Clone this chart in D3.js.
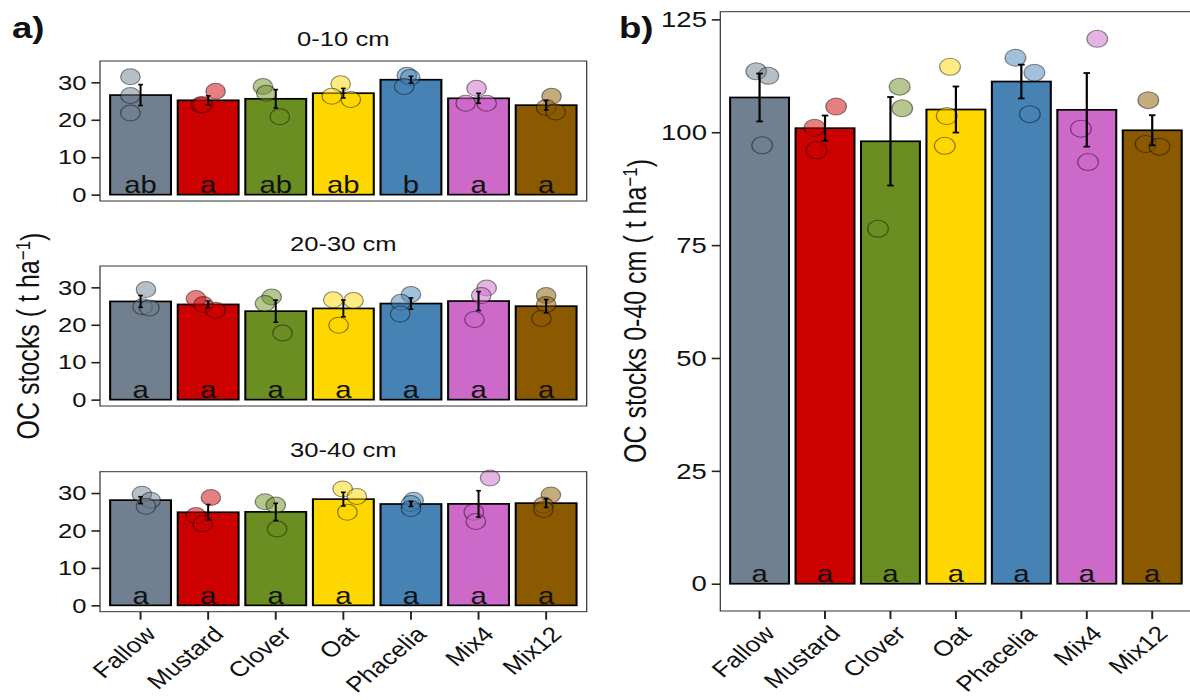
<!DOCTYPE html>
<html>
<head>
<meta charset="utf-8">
<script src="https://cdn.jsdelivr.net/npm/d3@7"></script>
<style>
  body { margin: 0; background: #fff; }
  svg text { font-family: "Liberation Sans", Arial, sans-serif; fill: #111; }
</style>
</head>
<body>
<svg id="chart"></svg>
<script>
// DATA

var categories = ["Fallow", "Mustard", "Clover", "Oat", "Phacelia", "Mix4", "Mix12"];
var colours = ["#708090", "#CD0000", "#6B8E23", "#FFD700", "#4682B4", "#CD69C9", "#8B5A00"];
var depths = ["0-10 cm", "20-30 cm", "30-40 cm"];

// three field replicates per treatment, OC stocks in t/ha
var stocks0to10 = [[31.5, 26.5, 21.8], [27.6, 24.0, 24.0], [28.9, 27.1, 20.8], [29.6, 26.3, 25.4],
                   [31.9, 31.3, 28.9], [28.4, 24.4, 24.4], [26.3, 23.3, 22.1]];
var stocks20to30 = [[29.4, 24.8, 24.5], [27.0, 25.4, 23.9], [27.4, 25.7, 17.8], [26.7, 26.5, 19.9],
                    [28.1, 26.0, 22.9], [29.8, 27.8, 21.4], [27.8, 25.4, 21.7]];
var stocks30to40 = [[29.7, 28.1, 26.5], [28.8, 24.0, 21.8], [27.7, 26.8, 20.4], [31.1, 29.1, 24.9],
                    [28.1, 27.2, 25.9], [34.0, 24.9, 22.4], [29.5, 26.8, 25.6]];
var stocksTotal = [[113.5, 112.5, 97.1], [105.7, 101.0, 96.0], [110.1, 105.3, 78.6], [114.5, 103.6, 97.0],
                   [116.5, 113.2, 104.0], [120.7, 100.8, 93.4], [107.1, 97.4, 96.8]];

// horizontal jitter of each replicate point (fraction of a category step)
var jit0to10 = [[-0.15, -0.15, -0.15], [0.11, -0.11, -0.08], [-0.19, -0.14, 0.06], [-0.04, -0.17, 0.11],
                [-0.06, -0.01, -0.1], [-0.03, -0.19, 0.12], [0.08, 0, 0.14]];
var jit20to30 = [[0.08, 0.03, 0.13], [-0.18, -0.07, 0.11], [-0.06, -0.16, 0.1], [-0.15, 0.15, -0.07],
                 [0, -0.15, -0.16], [0.12, 0.04, -0.06], [0, 0, -0.07]];
var jit30to40 = [[0.02, 0.15, 0.08], [0.04, -0.18, -0.08], [-0.16, 0, 0.02], [-0.01, 0.2, 0.06],
                 [0.04, 0, 0], [0.17, -0.07, -0.04], [0.07, -0.04, -0.04]];
var jitTotal = [[-0.05, 0.135, 0.04], [0.17, -0.16, -0.13], [0.14, 0.18, -0.19], [-0.09, -0.14, -0.17],
                [-0.09, 0.2, 0.13], [0.16, -0.09, 0.02], [-0.06, -0.1, 0.11]];

var letters0to10 = ["ab", "a", "ab", "ab", "b", "a", "a"];
var letters20to30 = ["a", "a", "a", "a", "a", "a", "a"];
var letters30to40 = ["a", "a", "a", "a", "a", "a", "a"];
var lettersTotal = ["a", "a", "a", "a", "a", "a", "a"];

var ticksA = [0, 10, 20, 30];
var ticksB = [0, 25, 50, 75, 100, 125];

// SETUP
// the reference is stretched sideways, so draw in narrower units and stretch the svg
var SX = 1.22,
    W = 1190 / SX,
    H = 700;

function lx(px) { return px / SX; }

var svg = d3.select("#chart")
    .attr("width", 1190)
    .attr("height", H)
    .attr("viewBox", "0 0 " + W + " " + H)
    .attr("preserveAspectRatio", "none");

function summary(vals) {
    var m = d3.mean(vals);
    var se = d3.deviation(vals) / Math.sqrt(vals.length);
    return { mean: m, lo: m - se, hi: m + se };
}

// DRAWING

function drawPanel(o) {
    var g = svg.append("g");

    var x = d3.scaleBand()
        .domain(categories)
        .range([o.left, o.right])
        .paddingInner(0.1)
        .paddingOuter(0.15);
    var step = x.step(), bw = x.bandwidth();

    var y = d3.scaleLinear().domain(o.yDomain).range([o.bottom, o.top]);

    var rows = categories.map(function (c, i) {
        var s = summary(o.values[i]);
        return { cat: c, col: colours[i], mean: s.mean, lo: s.lo, hi: s.hi,
                 vals: o.values[i], jit: o.jitter[i], letter: o.letters[i] };
    });

    // bars
    g.selectAll(".bar")
        .data(rows)
        .enter().append("rect")
        .attr("class", "bar")
        .attr("x", function (d) { return x(d.cat); })
        .attr("y", function (d) { return y(d.mean); })
        .attr("width", bw)
        .attr("height", function (d) { return y(0) - y(d.mean); })
        .attr("fill", function (d) { return d.col; })
        .attr("stroke", "#000")
        .attr("stroke-width", 1.7);

    // replicate points
    var pts = [];
    rows.forEach(function (d) {
        d.vals.forEach(function (v, k) { pts.push({ cat: d.cat, col: d.col, v: v, j: d.jit[k] }); });
    });
    g.selectAll(".pt")
        .data(pts)
        .enter().append("circle")
        .attr("class", "pt")
        .attr("cx", function (d) { return x(d.cat) + bw / 2 + d.j * step; })
        .attr("cy", function (d) { return y(d.v); })
        .attr("r", o.r)
        .attr("fill", function (d) { return d.col; })
        .attr("fill-opacity", 0.5)
        .attr("stroke", "#000")
        .attr("stroke-opacity", 0.45)
        .attr("stroke-width", 1);

    // error bars (mean +- se)
    var cap = o.cap * step / 2;
    var eb = g.selectAll(".eb")
        .data(rows)
        .enter().append("g")
        .attr("class", "eb")
        .attr("stroke", "#000")
        .attr("stroke-width", o.ebWidth);
    eb.append("line")
        .attr("x1", function (d) { return x(d.cat) + bw / 2; })
        .attr("x2", function (d) { return x(d.cat) + bw / 2; })
        .attr("y1", function (d) { return y(d.lo); })
        .attr("y2", function (d) { return y(d.hi); });
    eb.append("line")
        .attr("x1", function (d) { return x(d.cat) + bw / 2 - cap; })
        .attr("x2", function (d) { return x(d.cat) + bw / 2 + cap; })
        .attr("y1", function (d) { return y(d.lo); })
        .attr("y2", function (d) { return y(d.lo); });
    eb.append("line")
        .attr("x1", function (d) { return x(d.cat) + bw / 2 - cap; })
        .attr("x2", function (d) { return x(d.cat) + bw / 2 + cap; })
        .attr("y1", function (d) { return y(d.hi); })
        .attr("y2", function (d) { return y(d.hi); });

    // significance letters
    g.selectAll(".lett")
        .data(rows)
        .enter().append("text")
        .attr("class", "lett")
        .attr("x", function (d) { return x(d.cat) + bw / 2; })
        .attr("y", y(0) - 1.5)
        .attr("text-anchor", "middle")
        .style("font-size", o.letterSize + "px")
        .text(function (d) { return d.letter; });

    // panel border
    g.append("rect")
        .attr("x", o.left).attr("y", o.top)
        .attr("width", o.right - o.left).attr("height", o.bottom - o.top)
        .attr("fill", "none")
        .attr("stroke", "#333")
        .attr("stroke-width", 1);

    // y axis
    var ya = g.append("g")
        .attr("transform", "translate(" + o.left + ",0)")
        .call(d3.axisLeft(y).tickValues(o.ticks).tickSize(7).tickPadding(4));
    ya.select(".domain").remove();
    ya.selectAll(".tick line").attr("stroke", "#222").attr("stroke-width", 1.6);
    ya.selectAll(".tick text").style("font-size", o.tickSize + "px").attr("fill", "#111");

    // x axis
    if (o.showX) {
        var xa = g.append("g")
            .attr("transform", "translate(0," + o.bottom + ")")
            .call(d3.axisBottom(x).tickSize(8).tickFormat(""));
        xa.select(".domain").remove();
        xa.selectAll(".tick line").attr("stroke", "#222").attr("stroke-width", 1.6);
        g.selectAll(".xlab")
            .data(categories)
            .enter().append("text")
            .attr("class", "xlab")
            .attr("transform", function (d) {
                return "translate(" + (x(d) + bw / 2 + 3) + "," + (o.bottom + 13) + ") rotate(-45)";
            })
            .attr("text-anchor", "end")
            .attr("dy", "0.71em")
            .style("font-size", o.xSize + "px")
            .text(function (d) { return d; });
    }

    // facet title
    if (o.title) {
        g.append("text")
            .attr("x", (o.left + o.right) / 2)
            .attr("y", o.top - 14.5)
            .attr("text-anchor", "middle")
            .style("font-size", "21px")
            .text(o.title);
    }
}

// panel a: three depth facets
var facetTops = [61, 266, 471.7];
var facetData = [stocks0to10, stocks20to30, stocks30to40];
var facetJit = [jit0to10, jit20to30, jit30to40];
var facetLetters = [letters0to10, letters20to30, letters30to40];

for (var ii = 0; ii < 3; ii++) {
    drawPanel({
        left: lx(100), right: lx(586.7),
        top: facetTops[ii], bottom: facetTops[ii] + 140,
        yDomain: [-1.7, 35.7], ticks: ticksA,
        values: facetData[ii], jitter: facetJit[ii], letters: facetLetters[ii],
        r: 8, cap: 0.07, ebWidth: 1.6,
        letterSize: 24, tickSize: 21, xSize: 21.5,
        showX: ii == 2, title: depths[ii]
    });
}

// panel b: whole profile 0-40 cm
drawPanel({
    left: lx(720.3), right: lx(1191.5),
    top: 11.7, bottom: 611,
    yDomain: [-6.04, 126.7], ticks: ticksB,
    values: stocksTotal, jitter: jitTotal, letters: lettersTotal,
    r: 8.5, cap: 0.1, ebWidth: 1.8,
    letterSize: 24, tickSize: 22.5, xSize: 21.5,
    showX: true, title: null
});

// axis titles and panel tags
function yTitle(xpx, cy, prefix) {
    var t = svg.append("text")
        .attr("transform", "translate(" + lx(xpx) + "," + cy + ") rotate(-90)")
        .attr("text-anchor", "middle")
        .style("font-size", "25px");
    t.append("tspan").text(prefix + " ( t ha");
    t.append("tspan").attr("dy", "-0.45em").style("font-size", "17px").text("\u22121");
    t.append("tspan").attr("dy", "0.45em").text(")");
}
yTitle(39, 336, "OC stocks");
yTitle(646, 311, "OC stocks 0-40 cm");

svg.append("text").attr("x", lx(12)).attr("y", 38)
    .style("font-size", "30px").style("font-weight", "bold").text("a)");
svg.append("text").attr("x", lx(619)).attr("y", 38)
    .style("font-size", "30px").style("font-weight", "bold").text("b)");
</script>
</body>
</html>
